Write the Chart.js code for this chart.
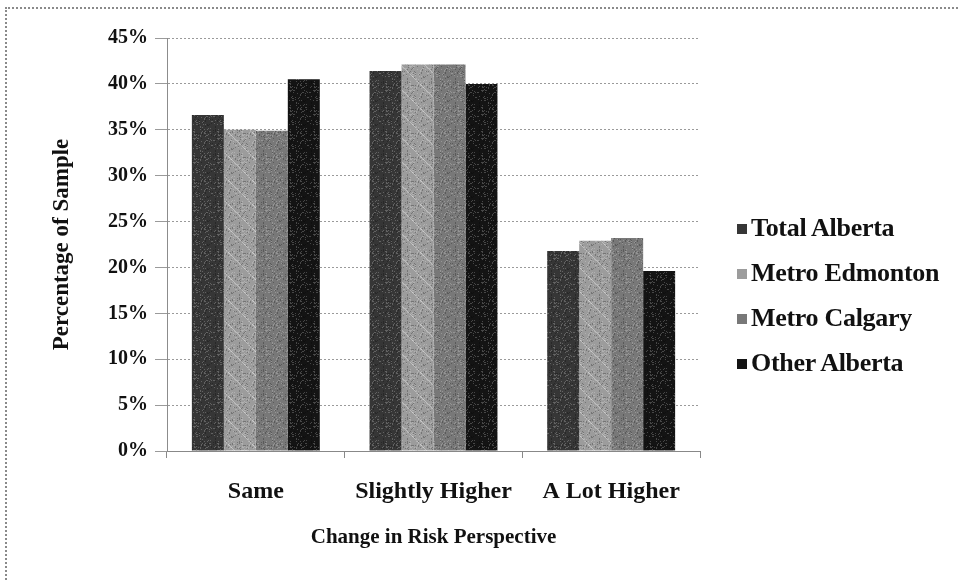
<!DOCTYPE html>
<html>
<head>
<meta charset="utf-8">
<script src="https://cdn.jsdelivr.net/npm/chart.js@4/dist/chart.umd.min.js"></script>
<style>
  html, body { margin: 0; padding: 0; background: #fff; }
  #wrap { position: relative; width: 959px; height: 581px; overflow: hidden; }
  #frame { position: absolute; left: 5px; top: 7px; width: 980px; height: 600px;
           border-left: 2px dotted #8a8a8a; border-top: 2px dotted #8a8a8a; box-sizing: border-box; }
  canvas { position: absolute; left: 0; top: 0; }
  #legend { position: absolute; left: 737px; top: 205px; font-family: "Liberation Serif", "Times New Roman", serif;
            font-weight: bold; font-size: 26px; color: #111; }
  #legend div { height: 45px; line-height: 46px; white-space: nowrap; letter-spacing: -0.3px; }
  #legend span.sw { display: inline-block; width: 10px; height: 10px; margin-right: 4px; vertical-align: 2px; }
</style>
</head>
<body>
<div id="wrap">
  <div id="frame"></div>
  <canvas id="c" width="959" height="581"></canvas>
  <div id="legend"></div>
</div>
<script>
// Change in risk perspective, share of sample (%)
const categories = ['Same', 'Slightly Higher', 'A Lot Higher'];
const seriesNames = ['Total Alberta', 'Metro Edmonton', 'Metro Calgary', 'Other Alberta'];
const totalAlberta  = [36.6, 41.4, 21.8];
const metroEdmonton = [35.0, 42.1, 22.9];
const metroCalgary  = [34.9, 42.1, 23.2];
const otherAlberta  = [40.5, 40.0, 19.6];
const yTicks = [0, 5, 10, 15, 20, 25, 30, 35, 40, 45];

const baseColors = ['#363636', '#9c9c9c', '#787878', '#141414'];

// Textured fills for the bars (fine grain, diagonal streaks on the light series)
function makePattern(color, streaks) {
  const p = document.createElement('canvas');
  p.width = 24; p.height = 24;
  const g = p.getContext('2d');
  g.fillStyle = color;
  g.fillRect(0, 0, 24, 24);
  let s = 7;
  for (let y = 0; y < 24; y++) {
    for (let x = 0; x < 24; x++) {
      s = (s * 1103515245 + 12345) & 0x7fffffff;
      const v = (s >> 8) % 100;
      if (v < 10) { g.fillStyle = 'rgba(255,255,255,0.22)'; g.fillRect(x, y, 1, 1); }
      else if (v < 20) { g.fillStyle = 'rgba(0,0,0,0.25)'; g.fillRect(x, y, 1, 1); }
    }
  }
  if (streaks) {
    g.strokeStyle = 'rgba(255,255,255,0.35)';
    g.lineWidth = 1;
    g.beginPath();
    g.moveTo(0, 0); g.lineTo(24, 24);
    g.stroke();
  }
  return document.getElementById('c').getContext('2d').createPattern(p, 'repeat');
}

const seriesValues = [totalAlberta, metroEdmonton, metroCalgary, otherAlberta];
const datasets = seriesNames.map((name, i) => ({
  label: name,
  data: seriesValues[i],
  backgroundColor: makePattern(baseColors[i], i === 1),
  borderWidth: 0,
  categoryPercentage: 0.72,
  barPercentage: 1.0
}));

// HTML legend
const legend = document.getElementById('legend');
seriesNames.forEach((name, i) => {
  const d = document.createElement('div');
  d.innerHTML = '<span class="sw" style="background:' + baseColors[i] + '"></span>' + name;
  legend.appendChild(d);
});

const serif = '"Liberation Serif", "Times New Roman", serif';

new Chart(document.getElementById('c'), {
  type: 'bar',
  data: { labels: categories, datasets },
  options: {
    responsive: false,
    animation: false,
    layout: { padding: { left: 48, right: 259, top: 38, bottom: 20 } },
    plugins: { legend: { display: false }, tooltip: { enabled: false } },
    scales: {
      x: {
        afterFit: (scale) => { scale.height = 110; },
        grid: { drawOnChartArea: false, drawTicks: true, tickLength: 7, offset: true, color: '#888' },
        border: { display: true, color: '#888', width: 1 },
        ticks: { color: '#111', padding: 19, font: { family: serif, size: 24, weight: 'bold' } },
        title: { display: true, text: 'Change in Risk Perspective', color: '#111',
                 padding: { top: 0, bottom: 11 }, font: { family: serif, size: 21, weight: 'bold' } }
      },
      y: {
        min: 0, max: 45,
        afterBuildTicks: (scale) => { scale.ticks = yTicks.map(v => ({ value: v })); },
        afterFit: (scale) => { scale.width = 119; },
        grid: { color: '#9a9a9a', lineWidth: 1, tickLength: 12, drawTicks: true },
        border: { display: true, color: '#8c8c8c', width: 1, dash: [2, 2] },
        ticks: { color: '#111', padding: 7, callback: (v) => v + '%',
                 font: { family: serif, size: 20, weight: 'bold' } },
        title: { display: true, text: 'Percentage of Sample', color: '#111',
                 padding: { top: 0, bottom: 0 }, font: { family: serif, size: 23, weight: 'bold' } }
      }
    }
  }
});
</script>
</body>
</html>
